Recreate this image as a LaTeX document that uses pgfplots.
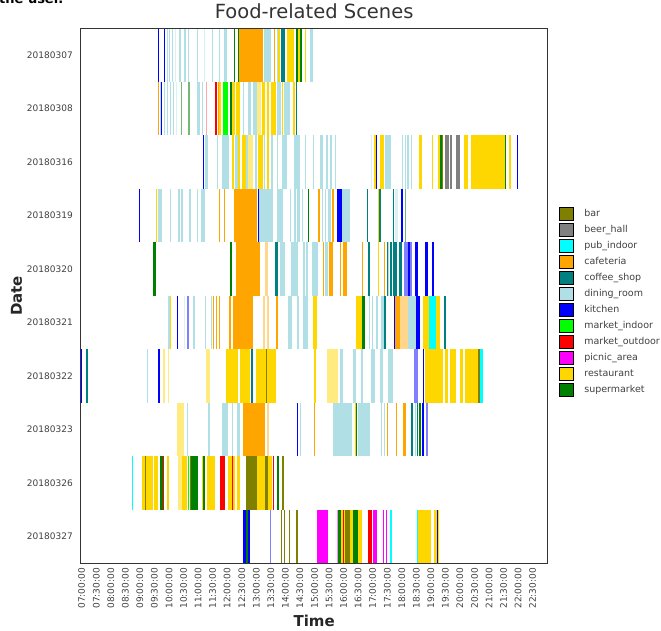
\documentclass[border=0pt]{standalone}
\usepackage{fontspec}
\setmainfont{DejaVu Sans}
\usepackage{pgfplots}
\usepackage{pgfplotstable}
\pgfplotsset{compat=1.18}

\definecolor{cbar}{RGB}{128,128,0}
\definecolor{cbeer}{RGB}{128,128,128}
\definecolor{cpub}{RGB}{0,255,255}
\definecolor{ccafe}{RGB}{255,165,0}
\definecolor{ccoffee}{RGB}{0,128,128}
\definecolor{cdining}{RGB}{176,224,230}
\definecolor{ckitchen}{RGB}{0,0,255}
\definecolor{cmin}{RGB}{0,255,0}
\definecolor{cmout}{RGB}{255,0,0}
\definecolor{cpicnic}{RGB}{255,0,255}
\definecolor{crest}{RGB}{255,215,0}
\definecolor{csuper}{RGB}{0,128,0}

% t = start (hours), r = row (0 = 20180307), w = length (hours)
\pgfplotstableread{
t r w
19.39 2 0.04
13.32 6 0.06
20.62 6 0.06
9.18 8 0.04
10.72 8 0.04
12.64 8 0.38
13.30 8 0.09
13.87 8 0.08
13.85 9 0.05
13.96 9 0.04
14.12 9 0.05
14.36 9 0.08
16.05 9 0.17
}\Tbar

\pgfplotstableread{
t r w
19.48 2 0.14
19.66 2 0.06
19.85 2 0.15
}\Tbeer

\pgfplotstableread{
t r w
18.94 5 0.23
20.68 6 0.11
8.74 8 0.04
17.61 9 0.05
18.51 9 0.06
}\Tpub

\pgfplotstableread{
t r w
12.42 0 0.82
13.61 0 0.04
9.62 1 0.04
11.67 1 0.04
11.73 3 0.04
11.89 3 0.04
12.23 3 0.78
15.13 3 0.06
15.61 3 0.06
12.29 4 0.84
15.30 4 0.04
15.50 4 0.15
15.88 4 0.04
15.99 4 0.12
16.62 4 0.06
17.40 4 0.04
11.50 5 0.04
11.62 5 0.04
11.73 5 0.04
12.07 5 0.05
12.19 5 0.71
13.68 5 0.08
17.77 5 0.17
12.53 7 0.77
14.98 7 0.05
17.48 7 0.06
17.79 7 0.04
18.05 7 0.09
}\Tcafe

\pgfplotstableread{
t r w
13.30 4 0.09
13.24 5 0.06
13.36 5 0.09
17.94 5 0.29
13.38 7 0.07
}\Tcafelight

\pgfplotstableread{
t r w
13.85 0 0.14
14.36 1 0.04
16.79 3 0.04
17.23 3 0.04
17.69 3 0.04
13.64 4 0.11
16.83 4 0.08
17.48 4 0.05
17.58 4 0.08
17.71 4 0.12
17.89 4 0.11
17.40 5 0.06
19.45 5 0.07
7.16 6 0.06
12.81 6 0.08
18.31 7 0.09
18.51 7 0.06
}\Tcoffee

\pgfplotstableread{
t r w
9.92 0 0.04
10.01 0 0.04
10.09 0 0.04
10.34 0 0.09
10.53 0 0.05
10.66 0 0.04
10.95 0 0.04
11.47 0 0.04
11.73 0 0.04
11.89 0 0.09
13.27 0 0.23
13.70 0 0.04
14.85 0 0.11
9.69 1 0.07
9.84 1 0.04
9.93 1 0.04
10.03 1 0.04
10.14 1 0.04
10.95 1 0.11
11.12 1 0.04
12.54 1 0.04
12.73 1 0.08
12.90 1 0.12
13.71 1 0.14
13.95 1 0.20
11.24 2 0.11
11.64 2 0.06
11.83 2 0.23
12.28 2 0.08
12.65 2 0.07
12.94 2 0.07
13.25 2 0.05
13.51 2 0.08
13.70 2 0.04
13.89 2 0.16
14.29 2 0.22
14.67 2 0.04
14.96 2 0.04
15.19 2 0.11
15.38 2 0.09
15.53 2 0.08
15.70 2 0.04
17.42 2 0.21
18.01 2 0.04
18.11 2 0.04
18.19 2 0.05
18.32 2 0.04
9.63 3 0.12
10.03 3 0.04
10.30 3 0.08
10.40 3 0.08
10.70 3 0.04
10.95 3 0.06
11.10 3 0.14
13.10 3 0.48
13.70 3 0.23
14.16 3 0.05
14.30 3 0.05
14.40 3 0.10
14.57 3 0.04
15.25 3 0.05
15.36 3 0.04
15.48 3 0.10
15.96 3 0.26
13.81 4 0.17
14.19 4 0.23
14.62 4 0.04
14.70 4 0.09
14.90 4 0.23
15.36 4 0.10
17.52 4 0.04
9.98 5 0.04
10.83 5 0.06
11.24 5 0.04
11.43 5 0.04
14.10 5 0.12
14.39 5 0.09
14.59 5 0.19
16.86 5 0.04
16.98 5 0.04
17.10 5 0.10
17.29 5 0.10
18.22 5 0.26
9.25 6 0.04
15.87 6 0.11
16.32 6 0.11
16.61 6 0.06
16.95 6 0.12
17.24 6 0.11
17.53 6 0.17
10.61 7 0.04
11.35 7 0.06
11.81 7 0.23
12.15 7 0.06
12.33 7 0.11
14.50 7 0.04
15.65 7 0.63
16.51 7 0.40
17.29 7 0.04
17.39 7 0.04
18.45 7 0.04
}\Tdining

\pgfplotstableread{
t r w
10.20 0 0.04
11.20 0 0.04
10.25 1 0.04
16.93 2 0.04
17.77 3 0.10
10.50 5 0.04
}\Tdininglight

\pgfplotstableread{
t r w
9.63 0 0.04
9.84 0 0.04
9.73 1 0.03
11.18 2 0.04
17.11 2 0.04
21.96 2 0.04
8.98 3 0.04
13.05 3 0.06
15.76 3 0.19
17.96 3 0.07
18.21 4 0.07
18.45 4 0.11
18.80 4 0.09
19.03 4 0.09
10.26 5 0.06
17.73 5 0.05
18.50 5 0.14
6.97 6 0.04
9.62 6 0.06
18.73 6 0.04
14.39 7 0.04
18.70 7 0.06
12.55 9 0.09
12.71 9 0.07
19.20 9 0.04
}\Tkitchen

\pgfplotstableread{
t r w
18.09 4 0.25
10.63 5 0.06
18.42 6 0.14
18.83 7 0.08
13.47 9 0.04
}\Tkitchenlight

\pgfplotstableread{
t r w
11.87 1 0.16
10.64 8 0.05
}\Tmin

\pgfplotstableread{
t r w
11.58 1 0.06
9.78 8 0.04
11.75 8 0.17
12.15 8 0.04
13.56 8 0.04
15.99 9 0.04
16.83 9 0.14
}\Tmout

\pgfplotstableread{
t r w
11.26 1 0.04
}\Tmoutlight

\pgfplotstableread{
t r w
15.08 9 0.40
17.01 9 0.13
17.36 9 0.04
17.45 9 0.04
}\Tpicnic

\pgfplotstableread{
t r w
15.76 9 0.06
}\Tpicniclight

\pgfplotstableread{
t r w
13.76 0 0.06
14.07 0 0.21
14.42 0 0.08
14.67 0 0.04
11.73 1 0.06
12.18 1 0.09
12.30 1 0.14
13.19 1 0.11
13.36 1 0.08
13.51 1 0.17
13.87 1 0.06
14.25 1 0.08
12.18 2 0.07
12.36 2 0.08
12.50 2 0.14
13.05 2 0.19
13.36 2 0.06
17.06 2 0.05
17.25 2 0.14
18.60 2 0.08
19.05 2 0.04
19.25 2 0.06
20.15 2 0.12
20.38 2 1.17
21.68 2 0.07
9.55 3 0.04
17.19 3 0.04
17.19 4 0.04
10.03 5 0.04
14.96 5 0.12
16.43 5 0.20
18.74 5 0.21
19.17 5 0.14
11.97 6 0.40
12.43 6 0.34
13.00 6 0.32
13.38 6 0.31
14.98 6 0.08
18.79 6 0.63
19.47 6 0.11
19.65 6 0.23
19.99 6 0.11
20.16 6 0.46
16.39 7 0.08
9.08 8 0.09
9.20 8 0.26
9.49 8 0.14
9.92 8 0.09
10.44 8 0.17
11.12 8 0.06
11.30 8 0.28
12.04 8 0.23
12.33 8 0.11
13.01 8 0.29
13.41 8 0.12
15.91 9 0.14
16.22 9 0.10
16.50 9 0.13
18.57 9 0.44
19.11 9 0.16
}\Trest

\pgfplotstableread{
t r w
13.03 1 0.12
12.73 2 0.17
9.79 6 0.06
9.97 6 0.04
11.28 6 0.12
15.44 6 0.37
10.29 7 0.21
10.31 8 0.13
}\Trestlight

\pgfplotstableread{
t r w
12.24 0 0.04
12.36 0 0.06
14.36 0 0.06
14.50 0 0.07
12.10 1 0.06
19.31 2 0.08
21.55 2 0.04
14.77 3 0.04
9.46 4 0.08
12.10 4 0.08
16.64 5 0.08
16.43 7 0.04
18.60 7 0.06
9.69 8 0.11
10.77 8 0.24
11.18 8 0.06
13.70 8 0.08
12.64 9 0.07
15.81 9 0.09
16.33 9 0.16
}\Tsuper

\pgfplotstableread{
t r w
10.41 1 0.05
10.66 1 0.06
18.11 3 0.04
}\Tsuperlight

% one row of the chart is 535pt/10 = 53.5pt high
\newcommand{\seg}[3]{%
  \addplot[forget plot, draw=none, mark=none,
    error bars/.cd, x dir=plus, x explicit, error mark=none,
    error bar style={draw=#1, draw opacity=#2, line width=53.5pt}]
    table[x=t, y=r, x error=w] {#3};}

\begin{document}
\begin{tikzpicture}
\useasboundingbox (0pt,0pt) rectangle (661pt,-631pt);
\node[anchor=base west, inner sep=0pt, font=\bfseries\fontsize{13}{13}\selectfont] at (-1pt,-4pt) {the user.};
\begin{axis}[
  at={(80.7pt,-563.3pt)}, anchor=south west,
  scale only axis, width=467pt, height=535pt,
  xmin=6.966, xmax=23.015, ymin=-0.5, ymax=9.5, y dir=reverse,
  xtick={7,7.5,...,22.5},
  xticklabels={07:00:00,07:30:00,08:00:00,08:30:00,09:00:00,09:30:00,10:00:00,10:30:00,11:00:00,11:30:00,12:00:00,12:30:00,13:00:00,13:30:00,14:00:00,14:30:00,15:00:00,15:30:00,16:00:00,16:30:00,17:00:00,17:30:00,18:00:00,18:30:00,19:00:00,19:30:00,20:00:00,20:30:00,21:00:00,21:30:00,22:00:00,22:30:00},
  ytick={0,...,9},
  yticklabels={20180307,20180308,20180316,20180319,20180320,20180321,20180322,20180323,20180326,20180327},
  major tick length=0pt,
  tick label style={font=\fontsize{9}{10}\selectfont, text=black!75},
  xticklabel style={yshift=-4.7pt, rotate=90, anchor=east, inner sep=0pt},
  yticklabel style={xshift=-7.7pt, anchor=east, inner sep=0pt},
  axis line style={black!80, line width=0.8pt},
  axis on top,
  title={Food-related Scenes},
  title style={at={(axis description cs:0.5,1.0075)}, anchor=base, inner sep=0pt,
    font=\fontsize{19.5}{20}\selectfont, text=black!80},
  xlabel={Time},
  xlabel style={at={(axis description cs:0.5,-0.119)}, anchor=base, inner sep=0pt,
    font=\bfseries\fontsize{15}{16}\selectfont, text=black!85},
  ylabel={Date},
  ylabel style={at={(axis description cs:-0.1257,0.5)}, anchor=base, inner sep=0pt,
    font=\bfseries\fontsize{15}{16}\selectfont, text=black!85},
  legend style={at={(1.0227,0.6667)}, anchor=north west, draw=none, fill=none,
    inner sep=0pt, row sep=1.8pt, font=\fontsize{9.5}{10}\selectfont, text=black!75,
    nodes={inner sep=0pt}, cells={anchor=west}},
  legend image code/.code={\filldraw[#1] (0pt,-6.7pt) rectangle (14pt,6.7pt); \path (25pt,0pt);},
]
\seg{cdining}{0.45}{\Tdininglight}
\seg{cdining}{1}{\Tdining}
\seg{crest}{0.5}{\Trestlight}
\seg{crest}{1}{\Trest}
\seg{ccafe}{0.45}{\Tcafelight}
\seg{ccafe}{1}{\Tcafe}
\seg{cbar}{1}{\Tbar}
\seg{cbeer}{1}{\Tbeer}
\seg{ccoffee}{1}{\Tcoffee}
\seg{ckitchen}{0.5}{\Tkitchenlight}
\seg{ckitchen}{1}{\Tkitchen}
\seg{cmin}{1}{\Tmin}
\seg{cmout}{0.35}{\Tmoutlight}
\seg{cmout}{1}{\Tmout}
\seg{cpicnic}{0.45}{\Tpicniclight}
\seg{cpicnic}{1}{\Tpicnic}
\seg{cpub}{1}{\Tpub}
\seg{csuper}{0.55}{\Tsuperlight}
\seg{csuper}{1}{\Tsuper}

\addlegendimage{fill=cbar, draw=black, line width=0.8pt}\addlegendentry{bar}
\addlegendimage{fill=cbeer, draw=black, line width=0.8pt}\addlegendentry{beer\_hall}
\addlegendimage{fill=cpub, draw=black, line width=0.8pt}\addlegendentry{pub\_indoor}
\addlegendimage{fill=ccafe, draw=black, line width=0.8pt}\addlegendentry{cafeteria}
\addlegendimage{fill=ccoffee, draw=black, line width=0.8pt}\addlegendentry{coffee\_shop}
\addlegendimage{fill=cdining, draw=black, line width=0.8pt}\addlegendentry{dining\_room}
\addlegendimage{fill=ckitchen, draw=black, line width=0.8pt}\addlegendentry{kitchen}
\addlegendimage{fill=cmin, draw=black, line width=0.8pt}\addlegendentry{market\_indoor}
\addlegendimage{fill=cmout, draw=black, line width=0.8pt}\addlegendentry{market\_outdoor}
\addlegendimage{fill=cpicnic, draw=black, line width=0.8pt}\addlegendentry{picnic\_area}
\addlegendimage{fill=crest, draw=black, line width=0.8pt}\addlegendentry{restaurant}
\addlegendimage{fill=csuper, draw=black, line width=0.8pt}\addlegendentry{supermarket}
\end{axis}
\end{tikzpicture}
\end{document}
